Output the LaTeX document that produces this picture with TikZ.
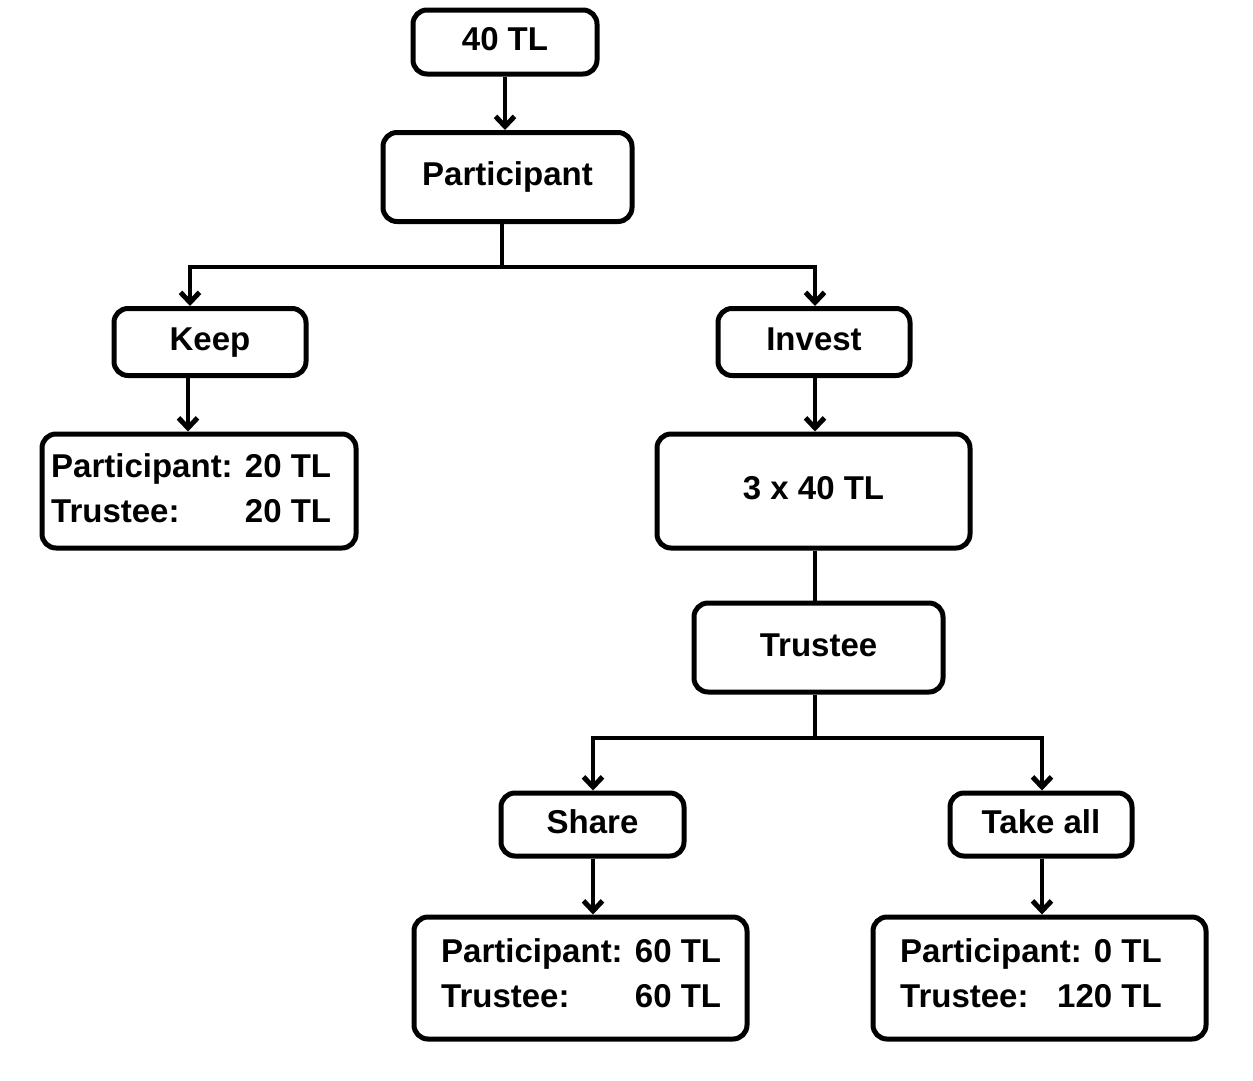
\documentclass[tikz,border=0pt]{standalone}
\usepackage{fontspec}
\setmainfont{Liberation Sans}
\usetikzlibrary{arrows.meta}
\tikzset{
  box/.style={draw, line width=5pt, rounded corners=14pt, fill=white, inner sep=0pt},
  lbl/.style={font=\fontsize{33}{45}\selectfont\bfseries, inner sep=0pt, text height=24pt, text depth=7pt},
  rlbl/.style={font=\fontsize{33}{45}\selectfont\bfseries, inner sep=0pt},
  conn/.style={line width=4pt},
  arr/.style={line width=4pt, -{Straight Barb[length=10pt,width=19pt,line width=5pt]}}
}
\begin{document}
\begin{tikzpicture}[x=1pt,y=-1pt]
\useasboundingbox (0,0) rectangle (1253,1080);
% boxes
\node[box, lbl, minimum width=184pt, minimum height=64pt] (top) at (505,42) {40 TL};
\node[box, lbl, minimum width=249pt, minimum height=89pt] (part) at (507.5,177) {Participant};
\node[box, lbl, minimum width=192pt, minimum height=67pt] (keep) at (210,342) {Keep};
\node[box, lbl, minimum width=192pt, minimum height=67pt] (invest) at (814,342) {Invest};
\node[box, minimum width=314pt, minimum height=114pt] (res1) at (199,491) {};
\node[rlbl, anchor=west] (res1t) at (51,491) {\begin{tabular}{@{}l@{}}Participant: 20 TL\\ Trustee:\hfill 20 TL\end{tabular}};
\node[box, lbl, minimum width=313pt, minimum height=114pt] (three) at (813.5,491) {3 x 40 TL};
\node[box, lbl, minimum width=249pt, minimum height=89pt] (trustee) at (818.5,647.5) {Trustee};
\node[box, lbl, minimum width=183pt, minimum height=63pt] (share) at (592.5,824.5) {Share};
\node[box, lbl, minimum width=182pt, minimum height=63pt] (take) at (1041,824.5) {Take all};
\node[box, minimum width=333pt, minimum height=122pt] (res2) at (580.5,978) {};
\node[rlbl, anchor=west] (res2t) at (441,976) {\begin{tabular}{@{}l@{}}Participant: 60 TL\\ Trustee:\hfill 60 TL\end{tabular}};
\node[box, minimum width=333pt, minimum height=122pt] (res3) at (1039.5,978) {};
\node[rlbl, anchor=west] (res3t) at (900,976) {\begin{tabular}{@{}l@{}}Participant: 0 TL\\ Trustee:\hfill 120 TL\end{tabular}};
% junctions
\coordinate (j1) at (502,267);
\coordinate (jL) at (190,267);
\coordinate (jR) at (815,267);
\coordinate (kx) at (188,400);
\coordinate (j2) at (815,738);
\coordinate (jS) at (593,738);
\coordinate (jT) at (1042,738);
% connectors
\draw[arr] (top.south) -- (top.south |- part.north);
\draw[conn] (j1 |- part.south) -- (j1);
\draw[arr] (j1) -- (jL) -- (jL |- keep.north);
\draw[arr] (j1) -- (jR) -- (jR |- invest.north);
\draw[arr] (kx |- keep.south) -- (kx |- res1.north);
\draw[arr] (jR |- invest.south) -- (jR |- three.north);
\draw[conn] (jR |- three.south) -- (jR |- trustee.north);
\draw[conn] (j2 |- trustee.south) -- (j2);
\draw[arr] (j2) -- (jS) -- (jS |- share.north);
\draw[arr] (j2) -- (jT) -- (jT |- take.north);
\draw[arr] (jS |- share.south) -- (jS |- res2.north);
\draw[arr] (jT |- take.south) -- (jT |- res3.north);
\end{tikzpicture}
\end{document}
